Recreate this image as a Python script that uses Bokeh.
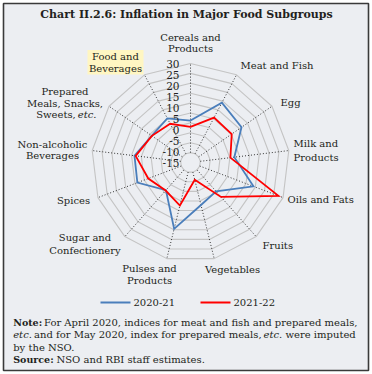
import math
from bokeh.plotting import figure
from bokeh.models import Range1d
from bokeh.embed import file_html
from bokeh.resources import INLINE
from bokeh.core.properties import value

# ---------------- data ----------------
categories = ["Cereals and Products", "Meat and Fish", "Egg", "Milk and Products",
              "Oils and Fats", "Fruits", "Vegetables", "Pulses and Products",
              "Sugar and Confectionery", "Spices", "Non-alcoholic Beverages",
              "Prepared Meals, Snacks, Sweets, etc.", "Food and Beverages"]
series_2020_21 = [1.2, 14.1, 11.3, 2.3, 14.0, -0.5, 2.1, 14.5, -1.3, 8.7, 8.5, 3.8, 5.2]
series_2021_22 = [-2.0, 5.6, 5.3, 0.3, 27.5, 3.2, -11.0, 2.4, -1.1, 2.8, 7.9, 3.7, 2.1]
tick_values = [30, 25, 20, 15, 10, 5, 0, -5, -10, -15]
tick_labels = ["30", "25", "20", "15", "10", "5", "0", "-5", "-10", "-15"]
series_names = ["2020-21", "2021-22"]

# ---------------- layout / style ----------------
W, H = 370, 372
CX, CY = 190.0, 162.0          # page coordinates of radar centre
R_OUT = 99.0
V_MIN, V_MAX = -20.0, 30.0
FONT = "DejaVu Serif"
TXT = "#231f20"
BG = "#eceef2"
BLUE = "#4a7ebb"
RED = "#ff0000"

n = len(categories)
angles = [2 * math.pi * k / n for k in range(n)]


def rad(v):
    return R_OUT * (v - V_MIN) / (V_MAX - V_MIN)


def xy(v, a):
    r = rad(v)
    return CX + r * math.sin(a), CY - r * math.cos(a)


p = figure(width=W, height=H, output_backend="svg", toolbar_location=None,
           x_range=Range1d(0, W), y_range=Range1d(H, 0),
           min_border=0, min_border_left=0, min_border_right=0,
           min_border_top=0, min_border_bottom=0)
p.axis.visible = False
p.grid.visible = False
p.background_fill_color = "white"
p.border_fill_color = "white"
p.outline_line_color = None

# panel frame
p.quad(left=[3], right=[368], top=[3], bottom=[370], fill_color=BG,
       line_color="#3a3a3a", line_width=1.6)

# rings
for t in tick_values:
    xs, ys = [], []
    for a in angles + [angles[0]]:
        x, y = xy(t, a)
        xs.append(x)
        ys.append(y)
    p.line(xs, ys, line_color="#c4c4c4", line_width=1.1)

# spokes
sx, sy = [], []
for a in angles:
    x0, y0 = xy(min(tick_values), a)
    x1, y1 = xy(max(tick_values), a)
    sx.append([x0, x1])
    sy.append([y0, y1])
p.multi_line(sx, sy, line_color="#333333", line_width=1, line_dash="1 2")

# series
for vals, col in ((series_2020_21, BLUE), (series_2021_22, RED)):
    xs, ys = [], []
    for v, a in zip(vals + [vals[0]], angles + [angles[0]]):
        x, y = xy(v, a)
        xs.append(x)
        ys.append(y)
    p.line(xs, ys, line_color=col, line_width=1.8, line_join="miter")

# radial tick labels (placed along the top spoke)
lab_y = [CY - rad(tick_values[0]) + 11.0 * (tick_values[0] - v) / 5.0 for v in tick_values]
p.text(x=[179] * len(tick_values), y=lab_y, text=tick_labels,
       text_font=value(FONT), text_font_size=value("10.5px"), text_color=TXT,
       text_align="right", text_baseline="middle")

# highlighted box behind "Food and Beverages"
p.quad(left=[87], right=[143], top=[49.5], bottom=[74], fill_color="#fff6c2",
       line_color=None)

# category labels: (text, x, y, align, style)
cat_lines = [
    ("Cereals and", 190, 37, "center", "normal"), ("Products", 190, 48, "center", "normal"),
    ("Meat and Fish", 240, 65, "left", "normal"),
    ("Egg", 280, 102, "left", "normal"),
    ("Milk and", 293, 143, "left", "normal"), ("Products", 293, 157, "left", "normal"),
    ("Oils and Fats", 287, 199, "left", "normal"),
    ("Fruits", 262, 245, "left", "normal"),
    ("Vegetables", 232, 269, "center", "normal"),
    ("Pulses and", 149, 268, "center", "normal"), ("Products", 149, 280, "center", "normal"),
    ("Sugar and", 84.5, 237, "center", "normal"), ("Confectionery", 84.5, 250, "center", "normal"),
    ("Spices", 73, 200, "center", "normal"),
    ("Non-alcoholic", 52, 144, "center", "normal"), ("Beverages", 52, 155, "center", "normal"),
    ("Prepared", 64.5, 91, "center", "normal"), ("Meals, Snacks,", 64.5, 102.7, "center", "normal"),
    ("Sweets,", 35.7, 114.3, "left", "normal"), ("etc.", 77.3, 114.3, "left", "italic"),
    ("Food and", 115, 56, "center", "normal"), ("Beverages", 115, 68, "center", "normal"),
]
for txt, x, y, al, st in cat_lines:
    p.text(x=[x], y=[y], text=[txt], text_font=value(FONT), text_font_size=value("10px"),
           text_color=TXT, text_align=al, text_baseline="middle", text_font_style=st)

# title
p.text(x=[186], y=[13.5], text=["Chart II.2.6: Inflation in Major Food Subgroups"],
       text_font=value(FONT), text_font_size=value("11px"), text_font_style="bold",
       text_color=TXT, text_align="center", text_baseline="middle")

# legend
for (x0, x1, tx), col, name in zip(((100, 130, 133), (200, 230, 233)), (BLUE, RED), series_names):
    p.line([x0, x1], [302, 302], line_color=col, line_width=2)
    p.text(x=[tx], y=[302], text=[name], text_font=value(FONT), text_font_size=value("10px"),
           text_color=TXT, text_align="left", text_baseline="middle")

# note / source
note_parts = [
    ("Note:", 12.7, 321.7, "bold", "9.5px"),
    ("For April 2020, indices for meat and fish and prepared meals,", 43.5, 321.7, "normal", "10px"),
    ("etc.", 12.7, 334, "italic", "10px"),
    ("and for May 2020, index for prepared meals,", 33.5, 334, "normal", "10px"),
    ("etc.", 263, 334, "italic", "10px"),
    ("were imputed", 285, 334, "normal", "10px"),
    ("by the NSO.", 12.7, 346.5, "normal", "10px"),
    ("Source:", 12.7, 359, "bold", "9.5px"),
    ("NSO and RBI staff estimates.", 56, 359, "normal", "10px"),
]
for txt, x, y, st, fs in note_parts:
    p.text(x=[x], y=[y], text=[txt], text_font=value(FONT), text_font_size=value(fs),
           text_color=TXT, text_align="left", text_baseline="middle", text_font_style=st)

open("out.html", "w").write(file_html(p, INLINE))
